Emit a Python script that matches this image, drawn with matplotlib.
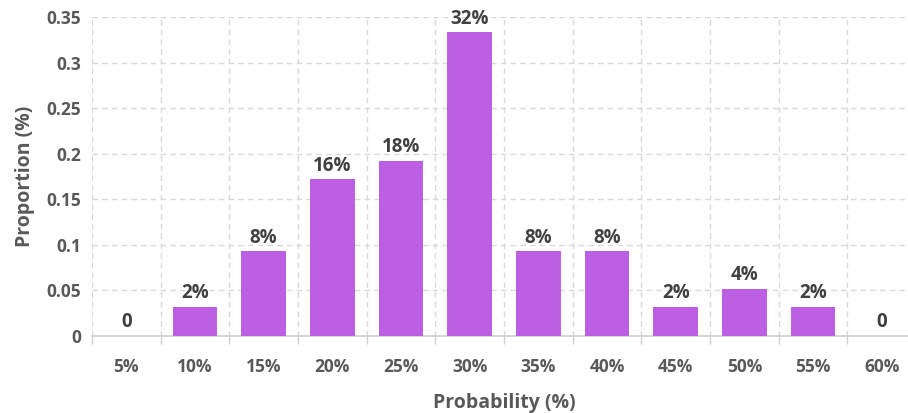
import matplotlib
matplotlib.use("Agg")
import matplotlib.pyplot as plt
import numpy as np
from matplotlib.ticker import FixedLocator

categories = ["5%", "10%", "15%", "20%", "25%", "30%", "35%", "40%", "45%", "50%", "55%", "60%"]
values = [0, 0.032, 0.093, 0.172, 0.192, 0.333, 0.093, 0.093, 0.032, 0.052, 0.032, 0]
bar_labels = ["0", "2%", "8%", "16%", "18%", "32%", "8%", "8%", "2%", "4%", "2%", "0"]
yticks = [0, 0.05, 0.1, 0.15, 0.2, 0.25, 0.3, 0.35]
ytick_labels = ["0", "0.05", "0.1", "0.15", "0.2", "0.25", "0.3", "0.35"]

plt.rcParams['font.family'] = ['Open Sans', 'DejaVu Sans']

fig = plt.figure(figsize=(9.08, 4.13), dpi=100)
ax = fig.add_axes([92/908, 77/413, 824/908, 319/413])

x = np.arange(len(categories))
ax.bar(x, values, width=0.65, color="#bc5fe3", zorder=3)

for xi, v, lab in zip(x, values, bar_labels):
    ax.text(xi, v + 0.004, lab, ha="center", va="bottom", fontsize=13.5,
            fontweight="bold", color="#404040", zorder=4)

ax.set_xlim(-0.5, len(categories) - 0.5)
ax.set_ylim(0, 0.35)
ax.set_xticks(x)
ax.set_xticklabels(categories)
ax.xaxis.set_minor_locator(FixedLocator(np.arange(-0.5, len(categories), 1.0)))
ax.set_yticks(yticks)
ax.set_yticklabels(ytick_labels)

ax.tick_params(axis="x", which="major", length=0, pad=16, labelsize=12.5, labelcolor="#595959")
ax.tick_params(axis="x", which="minor", length=6, color="#d0d0d0", width=1)
ax.tick_params(axis="y", length=0, pad=8, labelsize=12.5, labelcolor="#595959")
for lab in ax.get_xticklabels() + ax.get_yticklabels():
    lab.set_fontweight("bold")

ax.grid(axis="y", which="major", linestyle=(0, (4, 3)), color="#d9d9d9", linewidth=1, zorder=0)
ax.grid(axis="x", which="minor", linestyle=(0, (4, 3)), color="#d9d9d9", linewidth=1, zorder=0)
ax.grid(axis="x", which="major", visible=False)

for s in ["top", "right", "left"]:
    ax.spines[s].set_visible(False)
ax.spines["bottom"].set_color("#d0d0d0")
ax.spines["bottom"].set_linewidth(1.2)

ax.set_xlabel("Probability (%)", fontsize=14, fontweight="bold", color="#595959", labelpad=12)
ax.set_ylabel("Proportion (%)", fontsize=14, fontweight="bold", color="#595959", labelpad=8)

fig.savefig("out.png", dpi=100)
